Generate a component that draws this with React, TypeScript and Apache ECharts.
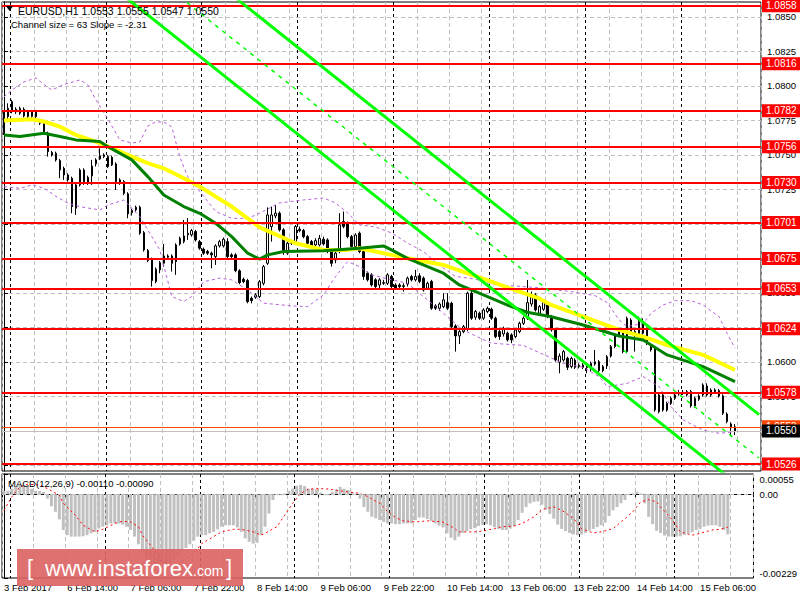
import { useEffect, useRef } from "react";
import * as echarts from "echarts";

const FONT = '"Liberation Sans", Arial, sans-serif';
const SLOTS = 190;

// Hourly EURUSD bars, 3 Feb 22:00 .. 15 Feb 13:00 : [open, high, low, close]
const ohlc: number[][] = [
  [1.07662, 1.07821, 1.07645, 1.07797], [1.07778, 1.07874, 1.07754, 1.07838], [1.07886, 1.07899, 1.07802, 1.07814],
  [1.07831, 1.07845, 1.07797, 1.07812], [1.07802, 1.0785, 1.0779, 1.07838], [1.07831, 1.07845, 1.07771, 1.07783],
  [1.07814, 1.07826, 1.07766, 1.07778], [1.07778, 1.07826, 1.07766, 1.07814], [1.07814, 1.07826, 1.07766, 1.07778],
  [1.07742, 1.07758, 1.07717, 1.0773], [1.0773, 1.07742, 1.07657, 1.07669], [1.07657, 1.07669, 1.07488, 1.07524],
  [1.07517, 1.07529, 1.07488, 1.075], [1.07512, 1.07524, 1.07452, 1.07464], [1.07459, 1.07471, 1.07331, 1.07391],
  [1.07403, 1.07415, 1.07319, 1.07355], [1.07355, 1.07367, 1.07307, 1.07319], [1.07331, 1.07343, 1.07077, 1.07126],
  [1.07114, 1.07295, 1.07065, 1.07283], [1.07283, 1.07403, 1.07271, 1.07391], [1.07391, 1.07403, 1.07283, 1.07307],
  [1.07295, 1.0735, 1.07283, 1.07338], [1.07348, 1.07464, 1.07283, 1.0742], [1.07435, 1.07476, 1.07416, 1.07464],
  [1.07471, 1.07548, 1.07464, 1.07493], [1.075, 1.07512, 1.07476, 1.07488], [1.07488, 1.075, 1.07404, 1.07416],
  [1.07483, 1.07495, 1.0742, 1.07428], [1.07435, 1.07447, 1.07246, 1.07307], [1.07319, 1.07331, 1.07283, 1.07295],
  [1.07307, 1.07319, 1.0721, 1.07222], [1.07218, 1.0723, 1.07041, 1.07073], [1.07097, 1.07109, 1.07061, 1.07082],
  [1.07102, 1.07133, 1.0709, 1.07121], [1.07121, 1.07133, 1.06921, 1.06933], [1.06937, 1.06949, 1.068, 1.06812],
  [1.06807, 1.06819, 1.06723, 1.06735], [1.06744, 1.06756, 1.06546, 1.0659], [1.06582, 1.06684, 1.0657, 1.06672],
  [1.06667, 1.06732, 1.06643, 1.0672], [1.06715, 1.06855, 1.06691, 1.06768], [1.06768, 1.0678, 1.06747, 1.06759],
  [1.06768, 1.0678, 1.06655, 1.06715], [1.06727, 1.0686, 1.06631, 1.06848], [1.06855, 1.06908, 1.06843, 1.06896],
  [1.06872, 1.07029, 1.0686, 1.06913], [1.06921, 1.07041, 1.06884, 1.06933], [1.06921, 1.06964, 1.06908, 1.06952],
  [1.06945, 1.06957, 1.06872, 1.06884], [1.06872, 1.06884, 1.06812, 1.06824], [1.06817, 1.06829, 1.06776, 1.06788],
  [1.068, 1.06812, 1.06776, 1.06788], [1.06788, 1.068, 1.06679, 1.06776], [1.06763, 1.06853, 1.06703, 1.06841],
  [1.06841, 1.06884, 1.06829, 1.06872], [1.06841, 1.06901, 1.06829, 1.06889], [1.06872, 1.06896, 1.06751, 1.06763],
  [1.06776, 1.06788, 1.06751, 1.06763], [1.06776, 1.06788, 1.0665, 1.06662], [1.0666, 1.06672, 1.06563, 1.06575],
  [1.06599, 1.06611, 1.0657, 1.06582], [1.0659, 1.06602, 1.06425, 1.06437], [1.06462, 1.06474, 1.06425, 1.06445],
  [1.06469, 1.06498, 1.06457, 1.06486], [1.06474, 1.06594, 1.06462, 1.06582], [1.0657, 1.06703, 1.06555, 1.06691],
  [1.06715, 1.0712, 1.06703, 1.07065], [1.06981, 1.07126, 1.06872, 1.07065], [1.07058, 1.07138, 1.07041, 1.07078],
  [1.07078, 1.0709, 1.06945, 1.06957], [1.06957, 1.06969, 1.06776, 1.068], [1.06788, 1.06872, 1.06776, 1.0686],
  [1.0686, 1.06884, 1.06848, 1.06872], [1.06872, 1.06993, 1.0686, 1.06981], [1.06962, 1.06981, 1.0694, 1.06952],
  [1.06952, 1.06964, 1.06896, 1.06908], [1.06908, 1.0692, 1.06848, 1.0686], [1.06872, 1.06884, 1.06824, 1.06836],
  [1.06848, 1.06896, 1.06836, 1.06879], [1.06848, 1.0692, 1.06836, 1.06896], [1.06889, 1.06908, 1.06843, 1.06855],
  [1.06884, 1.06896, 1.06788, 1.068], [1.06812, 1.06824, 1.06691, 1.06715], [1.06739, 1.068, 1.06715, 1.06788],
  [1.068, 1.07078, 1.06788, 1.06993], [1.07017, 1.0709, 1.06969, 1.06981], [1.07005, 1.07017, 1.06896, 1.06908],
  [1.06908, 1.0692, 1.06824, 1.06836], [1.06836, 1.06932, 1.06824, 1.0692], [1.06933, 1.06945, 1.06788, 1.068],
  [1.068, 1.06812, 1.06595, 1.06619], [1.06643, 1.06655, 1.06583, 1.06595], [1.06631, 1.06643, 1.06546, 1.06558],
  [1.06595, 1.06607, 1.06534, 1.06546], [1.06558, 1.06607, 1.06522, 1.06595], [1.0657, 1.06595, 1.06558, 1.06575],
  [1.0657, 1.06643, 1.06558, 1.06631], [1.06619, 1.06631, 1.06534, 1.06546], [1.06558, 1.0657, 1.06522, 1.06534],
  [1.06558, 1.0657, 1.06534, 1.06546], [1.06546, 1.0657, 1.0651, 1.06553], [1.06565, 1.06619, 1.06546, 1.06607],
  [1.06619, 1.06631, 1.06583, 1.06595], [1.06595, 1.06667, 1.06583, 1.06619], [1.06624, 1.06643, 1.0657, 1.06583],
  [1.06607, 1.06619, 1.0651, 1.06522], [1.06534, 1.06582, 1.06522, 1.0657], [1.06583, 1.06595, 1.06377, 1.06389],
  [1.06406, 1.06418, 1.06377, 1.06389], [1.06389, 1.06432, 1.0637, 1.0642], [1.06401, 1.06498, 1.06389, 1.0645],
  [1.0643, 1.06498, 1.06377, 1.06389], [1.06425, 1.06437, 1.06244, 1.06256], [1.06261, 1.06273, 1.06075, 1.06189],
  [1.06189, 1.06232, 1.0613, 1.0622], [1.0622, 1.06268, 1.06208, 1.06256], [1.06237, 1.0651, 1.06225, 1.06498],
  [1.06498, 1.06522, 1.06305, 1.06317], [1.06324, 1.06377, 1.06305, 1.06365], [1.06353, 1.06365, 1.06305, 1.06317],
  [1.06317, 1.06389, 1.06305, 1.06377], [1.06365, 1.06401, 1.06353, 1.06389], [1.06382, 1.06394, 1.06305, 1.06317],
  [1.06317, 1.06329, 1.06172, 1.06184], [1.0622, 1.06232, 1.0616, 1.06184], [1.06203, 1.06256, 1.06184, 1.06244],
  [1.06208, 1.0622, 1.06148, 1.0616], [1.06196, 1.06208, 1.06136, 1.0616], [1.06184, 1.06244, 1.06172, 1.06232],
  [1.0622, 1.06292, 1.06208, 1.0628], [1.0628, 1.06329, 1.06268, 1.06317], [1.06317, 1.06594, 1.06305, 1.0643],
  [1.0642, 1.0651, 1.06401, 1.06486], [1.06485, 1.06498, 1.06365, 1.06377], [1.06353, 1.06413, 1.06341, 1.06401],
  [1.06382, 1.06445, 1.0637, 1.0643], [1.06413, 1.0643, 1.06317, 1.06329], [1.06329, 1.06341, 1.0622, 1.06232],
  [1.06232, 1.06244, 1.06002, 1.06014], [1.05998, 1.06062, 1.05918, 1.06043], [1.06014, 1.06087, 1.06002, 1.06075],
  [1.06026, 1.06038, 1.05942, 1.05961], [1.05966, 1.06038, 1.05954, 1.06026], [1.06014, 1.06026, 1.05949, 1.05961],
  [1.05966, 1.0599, 1.05954, 1.05976], [1.05961, 1.0599, 1.05949, 1.05978], [1.05971, 1.0599, 1.05918, 1.05961],
  [1.05947, 1.06002, 1.0593, 1.0599], [1.05985, 1.06087, 1.05973, 1.06002], [1.06002, 1.06014, 1.05913, 1.05937],
  [1.05966, 1.05978, 1.05925, 1.05937], [1.05971, 1.0605, 1.05949, 1.06038], [1.06043, 1.06123, 1.06031, 1.06111],
  [1.06111, 1.06208, 1.06099, 1.06196], [1.06196, 1.06244, 1.06184, 1.06232], [1.0622, 1.06244, 1.06063, 1.06075],
  [1.06075, 1.06329, 1.06063, 1.06316], [1.06304, 1.06316, 1.06196, 1.06208], [1.0622, 1.06244, 1.06075, 1.06208],
  [1.06196, 1.06329, 1.06184, 1.06292], [1.0628, 1.06316, 1.06196, 1.06208], [1.06237, 1.06249, 1.06123, 1.06135],
  [1.06123, 1.06135, 1.06075, 1.06087], [1.06099, 1.06111, 1.0564, 1.05652], [1.0564, 1.05773, 1.05628, 1.05761],
  [1.05761, 1.05773, 1.0564, 1.05652], [1.05652, 1.05712, 1.0564, 1.057], [1.057, 1.05749, 1.05688, 1.05737],
  [1.05737, 1.05773, 1.05725, 1.05761], [1.05768, 1.05797, 1.05756, 1.05778], [1.05773, 1.05797, 1.05761, 1.0578],
  [1.05761, 1.05797, 1.05749, 1.05785], [1.05785, 1.05797, 1.05669, 1.05681], [1.05681, 1.05749, 1.05669, 1.05737],
  [1.0573, 1.05766, 1.05718, 1.05754], [1.05761, 1.05845, 1.05749, 1.05833], [1.05826, 1.05845, 1.05749, 1.05761],
  [1.05761, 1.05809, 1.05749, 1.05797], [1.05797, 1.05809, 1.05773, 1.05785], [1.05792, 1.05804, 1.05742, 1.05754],
  [1.05754, 1.05766, 1.05616, 1.05628], [1.05623, 1.05635, 1.05556, 1.05568], [1.05551, 1.05563, 1.0547, 1.05524],
  [1.0553, 1.0555, 1.0547, 1.055],
];

// Moving averages & envelope bands: [bar index, price]
const yellowMA = [[0, 1.07749], [7, 1.07758], [10, 1.07742], [14, 1.07705], [18, 1.07645], [24, 1.07585], [28, 1.07536], [32, 1.07488], [36, 1.0744], [40, 1.07403], [45, 1.07331], [49, 1.07271], [53, 1.07198], [57, 1.07126], [61, 1.07041], [64, 1.06975], [66, 1.0695], [73, 1.0686], [80, 1.06812], [86, 1.06812], [89, 1.06824], [97, 1.06776], [101, 1.06751], [110, 1.06703], [122, 1.06582], [129, 1.06509], [134, 1.0646], [137, 1.06413], [145, 1.06328], [154, 1.06232], [160, 1.06183], [166, 1.06123], [175, 1.06051], [183, 1.05942]];
const greenMA = [[0, 1.07645], [4, 1.07633], [10, 1.07657], [14, 1.07633], [18, 1.07609], [24, 1.07597], [26, 1.0756], [32, 1.07464], [36, 1.07343], [40, 1.0721], [45, 1.07126], [49, 1.07077], [53, 1.07005], [57, 1.06908], [61, 1.06788], [64, 1.06745], [66, 1.06776], [70, 1.068], [80, 1.06805], [89, 1.06824], [95, 1.06841], [97, 1.06812], [101, 1.06751], [110, 1.06643], [114, 1.06558], [120, 1.06486], [127, 1.06401], [131, 1.0636], [137, 1.06328], [145, 1.06268], [154, 1.06188], [160, 1.06159], [166, 1.06051], [175, 1.05966], [183, 1.05857]];
const upperBand = [[0, 1.0792], [2, 1.07971], [5, 1.08029], [8, 1.08058], [10, 1.0801], [12, 1.07971], [15, 1.0801], [19, 1.08043], [21, 1.08007], [23, 1.07899], [26, 1.0776], [29, 1.07609], [32, 1.07587], [34, 1.07594], [36, 1.0771], [38, 1.07739], [40, 1.07739], [42, 1.07703], [44, 1.07486], [46, 1.07341], [50, 1.072], [53, 1.0709], [57, 1.0704], [61, 1.0704], [64, 1.07078], [69, 1.07152], [75, 1.07174], [80, 1.07188], [83, 1.07152], [86, 1.0708], [89, 1.06993], [93, 1.06978], [97, 1.06935], [101, 1.06862], [105, 1.068], [109, 1.067], [113, 1.0662], [118, 1.066], [123, 1.0656], [128, 1.0655], [133, 1.0654], [142, 1.0651], [148, 1.0648], [151, 1.0643], [154, 1.06304], [156, 1.06256], [160, 1.0628], [162, 1.06353], [165, 1.06413], [168, 1.06444], [172, 1.06444], [175, 1.06413], [179, 1.06328], [181, 1.06208], [183, 1.061]];
const lowerBand = [[0, 1.0727], [4, 1.07258], [7, 1.07282], [10, 1.0726], [13, 1.072], [16, 1.0715], [19, 1.07125], [24, 1.07101], [26, 1.07137], [30, 1.07174], [34, 1.07053], [39, 1.06812], [42, 1.06474], [45, 1.06438], [47, 1.06474], [50, 1.06582], [54, 1.06607], [57, 1.06595], [61, 1.06522], [65, 1.06426], [72, 1.06406], [76, 1.06401], [80, 1.06486], [83, 1.06619], [86, 1.06727], [89, 1.06691], [92, 1.06631], [97, 1.06595], [101, 1.0657], [105, 1.06474], [110, 1.06353], [115, 1.0623], [122, 1.06136], [130, 1.0612], [140, 1.0599], [145, 1.05961], [149, 1.05894], [151, 1.05821], [156, 1.05845], [160, 1.05894], [164, 1.05821], [167, 1.05676], [170, 1.0558], [175, 1.05507], [179, 1.05483], [183, 1.05495]];

// Standard deviation channel (size 63, slope -2.31): endpoints [bar index, price]
const channelUpper = [[0, 1.09974], [189, 1.05619]];
const channelMiddle = [[0, 1.09659], [189, 1.05304]];
const channelLower = [[0, 1.09344], [189, 1.04989]];

// Horizontal levels
const levels = [1.0858, 1.0816, 1.0782, 1.0756, 1.073, 1.0701, 1.0675, 1.0653, 1.0624, 1.0578, 1.0526];
const askPrice = 1.0553;
const bidPrice = 1.055;

// MACD(12,26,9)
const macdHist = [
  0.00009, 0.00009, 0.00015, 0.00022, 0.00025, 0.00025, 0.00022, 0.00015, 0.00009, 0.00009,
  0.00006, -0.00012, -0.00033, -0.00048, -0.00069, -0.00098, -0.00112, -0.00116, -0.00116, -0.00116,
  -0.00115, -0.00112, -0.00107, -0.00103, -0.00094, -0.00089, -0.00085, -0.0008, -0.0008, -0.0008,
  -0.00083, -0.00089, -0.00098, -0.00116, -0.00137, -0.00157, -0.00176, -0.00191, -0.00195, -0.00194,
  -0.00189, -0.00189, -0.00187, -0.00178, -0.00167, -0.00156, -0.00147, -0.00137, -0.00127, -0.00116,
  -0.00112, -0.00112, -0.00107, -0.00103, -0.00096, -0.00089, -0.00085, -0.00085, -0.00085, -0.00091,
  -0.00103, -0.00121, -0.0013, -0.00135, -0.00133, -0.00112, -0.00089, -0.00053, -0.00016, -0.00003,
  -0.00003, 0.00002, 0.00009, 0.00015, 0.00023, 0.00025, 0.00022, 0.00015, 0.00015, 0.00013,
  0.00004, -0.00003, -0.00003, 0.00006, 0.00013, 0.0002, 0.00015, 0.00011, 0.00006, -0.00001,
  -0.00012, -0.00035, -0.00048, -0.00062, -0.00066, -0.00071, -0.00076, -0.0008, -0.0008, -0.00082,
  -0.00082, -0.0008, -0.0008, -0.0008, -0.00071, -0.00064, -0.00064, -0.00068, -0.00073, -0.0008,
  -0.00086, -0.00091, -0.00107, -0.00119, -0.00126, -0.00116, -0.00106, -0.00101, -0.00096, -0.00093,
  -0.00087, -0.00084, -0.00082, -0.00085, -0.0009, -0.00095, -0.00098, -0.00098, -0.00094, -0.00087,
  -0.00071, -0.00051, -0.00035, -0.00025, -0.00021, -0.0002, -0.00029, -0.00042, -0.00054, -0.00067,
  -0.00083, -0.00095, -0.00101, -0.00106, -0.0011, -0.00112, -0.0011, -0.00106, -0.001, -0.00095,
  -0.0009, -0.00085, -0.00078, -0.0006, -0.00044, -0.00035, -0.00025, -0.00016, -0.00003, 0.00002,
  0.00006, 0.00002, -0.00025, -0.00062, -0.00082, -0.001, -0.00106, -0.00113, -0.00116, -0.00116,
  -0.00116, -0.00115, -0.00112, -0.00107, -0.00104, -0.00098, -0.00095, -0.00089, -0.00086, -0.00085,
  -0.00085, -0.00089, -0.00098, -0.0011,
];
const macdSignal = [[0, -0.00044], [2, -0.00007], [4, 0.0002], [6, 0.00027], [9, 0.00025], [11, 0.00015], [14, -0.00003], [15, -0.00025], [18, -0.00057], [20, -0.00085], [23, -0.00103], [25, -0.00096], [28, -0.0008], [30, -0.00074], [32, -0.00076], [34, -0.00089], [35, -0.00112], [37, -0.00139], [39, -0.00167], [40, -0.00185], [43, -0.00194], [45, -0.00185], [48, -0.00162], [50, -0.00135], [53, -0.00116], [55, -0.00103], [58, -0.00096], [60, -0.00096], [63, -0.00103], [65, -0.00112], [66, -0.00107], [69, -0.00089], [71, -0.00057], [73, -0.00025], [75, 0.00002], [77, 0.00014], [80, 0.00015], [82, 0.00014], [85, 0.00009], [87, 0.00006], [90, 0.00002], [92, -0.00007], [95, -0.00025], [97, -0.00048], [99, -0.00064], [101, -0.00073], [104, -0.00076], [107, -0.00073], [111, -0.00076], [114, -0.00094], [115, -0.00103], [119, -0.00103], [121, -0.00101], [124, -0.00094], [126, -0.00089], [129, -0.00087], [131, -0.0008], [134, -0.00062], [136, -0.00042], [139, -0.00035], [141, -0.00044], [144, -0.00066], [146, -0.00094], [149, -0.00106], [151, -0.00103], [154, -0.00094], [156, -0.00076], [159, -0.00048], [161, -0.00021], [163, -0.00015], [165, -0.00021], [166, -0.00035], [169, -0.00071], [171, -0.00103], [174, -0.00112], [176, -0.00107], [179, -0.00098], [181, -0.00096], [183, -0.0009]];

// Axis ticks / labels
const priceTicks = [1.0525, 1.055, 1.0575, 1.06, 1.0625, 1.065, 1.0675, 1.07, 1.0725, 1.075, 1.0775, 1.08, 1.0825, 1.085];
const macdTicks = [-0.00229, 0, 0.00055];
const timeLabels = ["3 Feb 2017", "6 Feb 14:00", "7 Feb 06:00", "7 Feb 22:00", "8 Feb 14:00", "9 Feb 06:00", "9 Feb 22:00", "10 Feb 14:00", "13 Feb 06:00", "13 Feb 22:00", "14 Feb 14:00", "15 Feb 06:00"];
const LABEL_EVERY = 16;
const daySeparators = [1.5, 25.5, 49.5, 73.5, 97.5, 121.5, 145.5, 169.5];
const headerText = "EURUSD,H1 1.0553 1.0555 1.0547 1.0550";
const channelText = "Channel size = 63 Slope = -2.31";
const macdText = "MACD(12,26,9) -0.00110 -0.00090";

const categories = Array.from({ length: SLOTS }, (_, i) => String(i));

const gridLine = { show: true, lineStyle: { color: "#C0C0C0", type: [4, 3] as any, width: 1 } };
const daySepAxis = (gridIndex: number) => ({
  type: "value",
  gridIndex,
  min: -0.5,
  max: SLOTS - 0.5,
  position: "top",
  axisLine: { show: false },
  axisTick: { show: false, customValues: daySeparators },
  axisLabel: { show: false },
  splitLine: { show: true, lineStyle: { color: "#000", type: [3, 3], width: 1 } },
});

function buildOption() {
  const labelBase = {
    show: true,
    position: "end",
    distance: 1,
    color: "#fff",
    backgroundColor: "#FF0000",
    padding: [2, 4, 1, 4],
    fontSize: 10,
    fontFamily: FONT,
    formatter: (p: any) => Number(p.value).toFixed(4),
  };
  const levelData: any[] = levels.map((v) => ({ yAxis: v }));
  levelData.push({
    yAxis: askPrice,
    lineStyle: { color: "#FF4500", width: 1, type: "solid" },
    label: { backgroundColor: "#FF4500" },
  });
  levelData.push({
    yAxis: bidPrice,
    lineStyle: { color: "#C0C0C0", width: 1, type: "solid" },
    label: { backgroundColor: "#000000" },
  });

  const lineSeries = (name: string, data: number[][], color: string, width: number, type: any, z: number, xi = 1, yi = 0) => ({
    name,
    type: "line",
    xAxisIndex: xi,
    yAxisIndex: yi,
    data,
    symbol: "none",
    showSymbol: false,
    silent: true,
    z,
    lineStyle: { color, width, type },
    emphasis: { disabled: true },
  });

  return {
    animation: false,
    backgroundColor: "#fff",
    grid: [
      { left: 2, right: 39, top: 2, height: 469, show: true, borderColor: "#000", borderWidth: 1, backgroundColor: "transparent" },
      { left: 2, right: 39, top: 474, height: 104, show: true, borderColor: "#000", borderWidth: 1, backgroundColor: "transparent" },
    ],
    xAxis: [
      {
        type: "category",
        gridIndex: 0,
        data: categories,
        boundaryGap: true,
        axisLine: { show: false },
        axisTick: { show: false },
        axisLabel: { show: false },
        splitLine: { ...gridLine, interval: 7 },
      },
      daySepAxis(0),
      {
        type: "category",
        gridIndex: 1,
        data: categories,
        boundaryGap: true,
        axisLine: { show: true, lineStyle: { color: "#000" } },
        axisTick: { show: true, interval: LABEL_EVERY - 1, length: 3, lineStyle: { color: "#000" } },
        axisLabel: {
          show: true,
          interval: LABEL_EVERY - 1,
          align: "left",
          margin: 4,
          fontSize: 9.5,
          fontFamily: FONT,
          color: "#000",
          formatter: (v: string) => timeLabels[Number(v) / LABEL_EVERY] ?? "",
        },
        splitLine: { ...gridLine, interval: 7 },
      },
      daySepAxis(1),
    ],
    yAxis: [
      {
        type: "value",
        gridIndex: 0,
        position: "right",
        min: 1.0521,
        max: 1.08608,
        axisLine: { show: true, lineStyle: { color: "#000" } },
        axisTick: { show: true, customValues: priceTicks, length: 4, lineStyle: { color: "#000" } },
        axisLabel: { customValues: priceTicks, formatter: (v: number) => v.toFixed(4), margin: 6, fontSize: 9.5, fontFamily: FONT, color: "#000" },
        splitLine: gridLine,
      },
      {
        type: "value",
        gridIndex: 1,
        position: "right",
        min: -0.00229,
        max: 0.00055,
        axisLine: { show: true, lineStyle: { color: "#000" } },
        axisTick: { show: true, customValues: macdTicks, length: 4, lineStyle: { color: "#000" } },
        axisLabel: {
          customValues: macdTicks,
          formatter: (v: number) => (v === 0 ? "0.00" : v.toFixed(5)),
          margin: 6,
          fontSize: 9.5,
          fontFamily: FONT,
          color: "#000",
          showMinLabel: true,
          showMaxLabel: true,
          verticalAlignMaxLabel: "top",
          verticalAlignMinLabel: "bottom",
        },
        splitLine: { show: false },
      },
    ],
    series: [
      {
        name: "EURUSD",
        type: "candlestick",
        xAxisIndex: 0,
        yAxisIndex: 0,
        data: ohlc.map((r) => [r[0], r[3], r[2], r[1]]),
        barWidth: 2,
        silent: true,
        z: 2,
        itemStyle: { color: "#fff", color0: "#000", borderColor: "#000", borderColor0: "#000", borderWidth: 1 },
        emphasis: { disabled: true },
        markLine: {
          silent: true,
          precision: 5,
          symbol: ["none", "none"],
          animation: false,
          lineStyle: { color: "#FF0000", width: 2, type: "solid" },
          label: labelBase,
          emphasis: { disabled: true },
          data: levelData,
        },
      },
      lineSeries("Upper band", upperBand, "#B85FD6", 1, [3, 3], 3),
      lineSeries("Lower band", lowerBand, "#B85FD6", 1, [3, 3], 3),
      lineSeries("MA slow", yellowMA, "#FFFF00", 4, "solid", 4),
      lineSeries("MA fast", greenMA, "#008000", 3, "solid", 4),
      lineSeries("Channel upper", channelUpper, "#00FF00", 3, "solid", 5),
      lineSeries("Channel middle", channelMiddle, "#00FF00", 1.5, [4, 5], 5),
      lineSeries("Channel lower", channelLower, "#00FF00", 3, "solid", 5),
      {
        name: "MACD",
        type: "bar",
        xAxisIndex: 2,
        yAxisIndex: 1,
        data: macdHist,
        barWidth: 3,
        silent: true,
        itemStyle: { color: "#C0C0C0" },
        emphasis: { disabled: true },
        markLine: {
          silent: true,
          precision: 5,
          symbol: ["none", "none"],
          label: { show: false },
          lineStyle: { color: "#C0C0C0", type: [4, 3], width: 1 },
          data: [{ yAxis: 0 }],
        },
      },
      lineSeries("Signal", macdSignal, "#FF0000", 1, [2, 3], 4, 3, 1),
    ],
    graphic: [
      { type: "polygon", z: 100, shape: { points: [[6, 6], [13, 6], [9.5, 11]] }, style: { fill: "#000" } },
      { type: "text", z: 100, x: 18, y: 10.5, style: { text: headerText, font: `10.5px ${FONT}`, fill: "#000", verticalAlign: "middle", textVerticalAlign: "middle" } },
      { type: "text", z: 100, x: 11, y: 24, style: { text: channelText, font: `9.5px ${FONT}`, fill: "#000", verticalAlign: "middle", textVerticalAlign: "middle" } },
      { type: "text", z: 100, x: 8, y: 483, style: { text: macdText, font: `9.5px ${FONT}`, fill: "#000", verticalAlign: "middle", textVerticalAlign: "middle" } },
      {
        type: "group",
        z: 100,
        children: [
          { type: "rect", z: 100, shape: { x: 17, y: 549, width: 226, height: 37 }, style: { fill: "#DC6262", opacity: 0.9 } },
          { type: "text", z: 101, x: 27, y: 567, style: { text: "[", font: `22px ${FONT}`, fill: "#fff", verticalAlign: "middle", textVerticalAlign: "middle" } },
          { type: "text", z: 101, x: 45, y: 568, style: { text: "www.instaforex", font: `22px ${FONT}`, fill: "#fff", verticalAlign: "middle", textVerticalAlign: "middle" } },
          { type: "text", z: 101, x: 193, y: 571, style: { text: ".com", font: `14px ${FONT}`, fill: "#fff", verticalAlign: "middle", textVerticalAlign: "middle" } },
          { type: "text", z: 101, x: 226, y: 567, style: { text: "]", font: `22px ${FONT}`, fill: "#fff", verticalAlign: "middle", textVerticalAlign: "middle" } },
        ],
      },
    ],
  };
}

export default function App() {
  const ref = useRef<HTMLDivElement>(null);
  useEffect(() => {
    document.body.style.margin = "0";
    const chart = echarts.init(ref.current!, null, { renderer: "svg" });
    chart.setOption(buildOption() as any);
    return () => chart.dispose();
  }, []);
  return <div ref={ref} style={{ width: 800, height: 600 }} />;
}
